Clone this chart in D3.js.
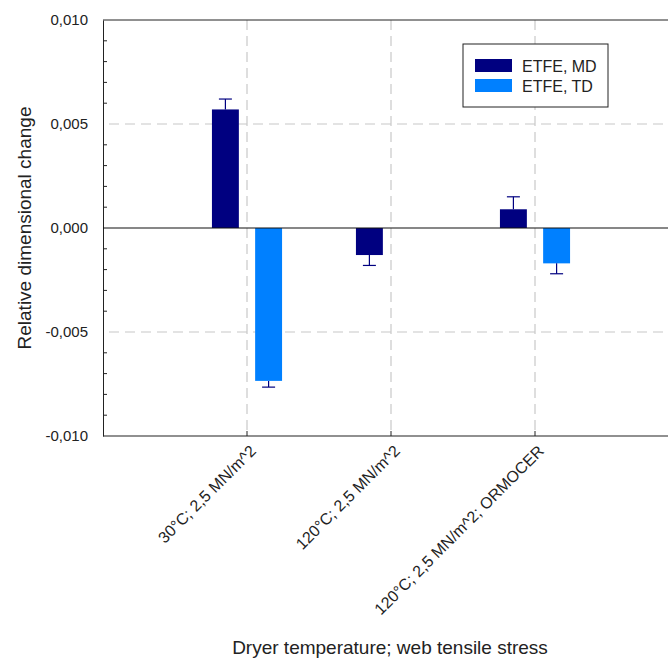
<!DOCTYPE html>
<html>
<head>
<meta charset="utf-8">
<script src="https://cdn.jsdelivr.net/npm/d3@7"></script>
<style>
  html, body { margin: 0; padding: 0; background: #fff; overflow: hidden; }
  text { font-family: Arial, "Liberation Sans", sans-serif; fill: #222; }
</style>
</head>
<body>
<svg id="chart" width="668" height="659"></svg>
<script>
// Relative dimensional change of ETFE film, machine (MD) and transverse (TD) direction
const categories = ["30°C; 2,5 MN/m^2", "120°C; 2,5 MN/m^2", "120°C; 2,5 MN/m^2; ORMOCER"];
const seriesNames = ["ETFE, MD", "ETFE, TD"];
const mdValues = [0.0057, -0.0013, 0.0009];
const mdErrors = [0.0005, 0.0005, 0.0006];
const tdValues = [-0.00735, null, -0.0017];
const tdErrors = [0.0003, null, 0.0005];
const yTicks = [-0.010, -0.005, 0.000, 0.005, 0.010];
const colors = ["#000080", "#0080ff"];

const svg = d3.select("#chart");
const plotLeft = 103, plotRight = 679, plotTop = 20, plotBottom = 436;

const x = d3.scaleLinear().domain([0, categories.length + 1]).range([plotLeft, plotRight]);
const y = d3.scaleLinear().domain([-0.010, 0.010]).range([plotBottom, plotTop]);
const fmt = v => d3.format(".3f")(v).replace(".", ",").replace("−", "-");

const barOffset = 0.15, barWidth = x(0.187) - x(0);

// dashed grid
const grid = svg.append("g").attr("stroke", "#c8c8c8").attr("stroke-width", 1.2)
  .attr("stroke-dasharray", "10,6");
[-0.005, 0.005].forEach(v => grid.append("line")
  .attr("x1", plotLeft + 6).attr("x2", plotRight).attr("y1", y(v)).attr("y2", y(v)));
categories.forEach((c, i) => grid.append("line")
  .attr("x1", x(i + 1)).attr("x2", x(i + 1)).attr("y1", plotTop).attr("y2", plotBottom));

// frame
svg.append("line").attr("x1", plotLeft).attr("x2", plotRight).attr("y1", plotTop).attr("y2", plotTop)
  .attr("stroke", "#222").attr("stroke-width", 1);
svg.append("line").attr("x1", plotLeft).attr("x2", plotRight).attr("y1", plotBottom).attr("y2", plotBottom)
  .attr("stroke", "#222").attr("stroke-width", 1.2);

// y axis with inward minor ticks
const yAxis = svg.append("g").attr("transform", `translate(${plotLeft},0)`)
  .call(d3.axisLeft(y).tickValues(yTicks).tickSize(0).tickPadding(15).tickFormat(fmt));
yAxis.select(".domain").attr("stroke", "#222");
yAxis.selectAll("text").style("font-size", "15px").attr("fill", "#222");
const minor = d3.range(-9, 10).filter(k => k % 5 !== 0).map(k => k / 1000);
svg.append("g").selectAll("line").data(minor).join("line")
  .attr("x1", plotLeft).attr("x2", plotLeft + 4).attr("y1", d => y(d)).attr("y2", d => y(d))
  .attr("stroke", "#222");

// x ticks pointing up from bottom
svg.append("g").selectAll("line").data(categories).join("line")
  .attr("x1", (d, i) => x(i + 1)).attr("x2", (d, i) => x(i + 1))
  .attr("y1", plotBottom).attr("y2", plotBottom - 5).attr("stroke", "#222");

// bars
const bars = [];
categories.forEach((c, i) => {
  if (mdValues[i] != null) bars.push({ i, v: mdValues[i], e: mdErrors[i], s: 0, off: -barOffset });
  if (tdValues[i] != null) bars.push({ i, v: tdValues[i], e: tdErrors[i], s: 1, off: barOffset });
});
const g = svg.append("g");
g.selectAll("rect").data(bars).join("rect")
  .attr("x", d => x(d.i + 1 + d.off) - barWidth / 2)
  .attr("width", barWidth)
  .attr("y", d => y(Math.max(0, d.v)))
  .attr("height", d => Math.abs(y(d.v) - y(0)))
  .attr("fill", d => colors[d.s]);

// one-sided error bars
const eb = svg.append("g").attr("stroke", "#000080").attr("stroke-width", 1.2);
bars.forEach(d => {
  const cx = x(d.i + 1 + d.off);
  const end = d.v >= 0 ? d.v + d.e : d.v - d.e;
  eb.append("line").attr("x1", cx).attr("x2", cx).attr("y1", y(d.v)).attr("y2", y(end));
  eb.append("line").attr("x1", cx - 6.5).attr("x2", cx + 6.5).attr("y1", y(end)).attr("y2", y(end));
});

// zero line
svg.append("line").attr("x1", plotLeft).attr("x2", plotRight).attr("y1", y(0)).attr("y2", y(0))
  .attr("stroke", "#111").attr("stroke-width", 1.2);

// category labels
svg.append("g").selectAll("text").data(categories).join("text")
  .attr("transform", (d, i) => `translate(${x(i + 1) + 6},${plotBottom + 12}) rotate(-45)`)
  .attr("text-anchor", "end").attr("dy", "0.35em")
  .style("font-size", "16px").text(d => d);

// axis titles
svg.append("text").attr("transform", `translate(31,${y(0)}) rotate(-90)`)
  .attr("text-anchor", "middle").style("font-size", "19px").text("Relative dimensional change");
svg.append("text").attr("x", 390).attr("y", 654).attr("text-anchor", "middle")
  .style("font-size", "19px").text("Dryer temperature; web tensile stress");

// legend
const lg = svg.append("g").attr("transform", "translate(463,44)");
lg.append("rect").attr("width", 145).attr("height", 63).attr("fill", "#fff")
  .attr("stroke", "#222").attr("stroke-width", 1);
seriesNames.forEach((n, k) => {
  lg.append("rect").attr("x", 12).attr("y", 15 + k * 20).attr("width", 37).attr("height", 13)
    .attr("fill", colors[k]);
  lg.append("text").attr("x", 59).attr("y", 28 + k * 20).style("font-size", "16px").text(n);
});
</script>
</body>
</html>
